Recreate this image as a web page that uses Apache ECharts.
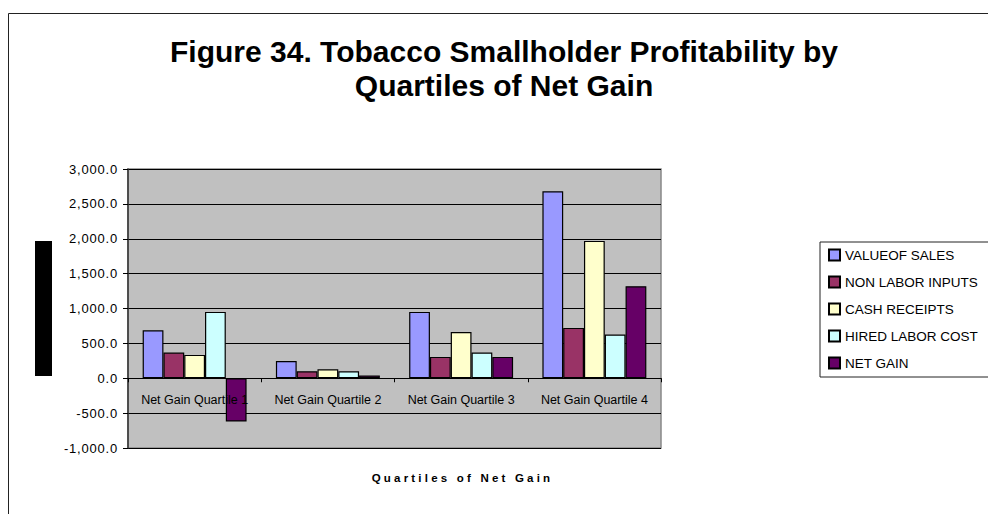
<!DOCTYPE html>
<html>
<head>
<meta charset="utf-8">
<script src="https://cdn.jsdelivr.net/npm/echarts@6/dist/echarts.min.js"></script>
<style>
html,body{margin:0;padding:0;background:#fff;}
#chart{width:988px;height:514px;}
</style>
</head>
<body>
<div id="chart"></div>
<script>
const categories = ['Net Gain Quartile 1', 'Net Gain Quartile 2', 'Net Gain Quartile 3', 'Net Gain Quartile 4'];
const seriesNames = ['VALUEOF SALES', 'NON LABOR INPUTS', 'CASH RECEIPTS', 'HIRED LABOR COST', 'NET GAIN'];
const valueOfSales = [688, 248, 951, 2681];
const nonLaborInputs = [368, 100, 306, 722];
const cashReceipts = [335, 129, 664, 1969];
const hiredLaborCost = [951, 100, 368, 626];
const netGain = [-621, 38, 306, 1319];
const seriesColors = ['#9999FF', '#993366', '#FFFFCC', '#CCFFFF', '#660066'];
const yMin = -1000, yMax = 3000, yStep = 500;

const seriesData = [valueOfSales, nonLaborInputs, cashReceipts, hiredLaborCost, netGain];
const FONT = "'Liberation Sans', Arial, sans-serif";
const GRID_TOP = 169, GRID_H = 279;
// x axis sits on the value 0: distance from the grid bottom up to 0
const zeroOffset = -GRID_H * (0 - yMin) / (yMax - yMin);

function fmt(v) {
  const s = Math.abs(v).toFixed(1);
  const parts = s.split('.');
  parts[0] = parts[0].replace(/\B(?=(\d{3})+(?!\d))/g, ',');
  return (v < 0 ? '-' : '') + parts.join('.');
}

const chart = echarts.init(document.getElementById('chart'), null, {renderer: 'svg'});
chart.setOption({
  animation: false,
  backgroundColor: '#fff',
  title: {
    text: 'Figure 34. Tobacco Smallholder Profitability by\nQuartiles of Net Gain',
    left: 504, top: 34, padding: 0, textAlign: 'center',
    textStyle: {fontFamily: FONT, fontWeight: 'bold', fontSize: 30, lineHeight: 34, color: '#000'}
  },
  graphic: [
    {type: 'rect', shape: {x: 8.5, y: 13.5, width: 1100, height: 700}, style: {fill: 'none', stroke: '#222', lineWidth: 1}, silent: true, z: 0},
    {type: 'rect', shape: {x: 35, y: 241, width: 17, height: 135}, style: {fill: '#000'}, silent: true, z: 1}
  ],
  legend: {
    orient: 'vertical', left: 820, top: 242,
    padding: [6, 60, 7, 8], itemGap: 13, itemWidth: 11, itemHeight: 11,
    backgroundColor: '#fff', borderColor: '#222', borderWidth: 1,
    icon: 'rect',
    textStyle: {fontFamily: FONT, fontSize: 13.5, lineHeight: 14, color: '#000'},
    data: seriesNames
  },
  grid: {
    left: 128, top: GRID_TOP, width: 533, height: GRID_H,
    outerBoundsMode: 'none', containLabel: false,
    show: true, backgroundColor: '#C0C0C0', borderColor: '#888', borderWidth: 1.5
  },
  xAxis: {
    type: 'category', data: categories, z: 5,
    offset: zeroOffset,
    axisLine: {onZero: false, lineStyle: {color: '#000', width: 1}},
    axisTick: {show: true, length: 4, alignWithLabel: false, lineStyle: {color: '#000'}},
    axisLabel: {fontFamily: FONT, fontSize: 12.5, color: '#000', margin: 15, interval: 0, hideOverlap: false},
    splitLine: {show: false},
    name: 'Quartiles of Net Gain', nameLocation: 'middle', nameGap: 94,
    nameTextStyle: {fontFamily: FONT, fontWeight: 'bold', fontSize: 11.5, color: '#000', padding: [0, 0, 0, 136]}
  },
  yAxis: {
    type: 'value', min: yMin, max: yMax, interval: yStep,
    axisLine: {show: true, lineStyle: {color: '#333', width: 1.5}},
    axisTick: {show: true, length: 5, lineStyle: {color: '#000'}},
    axisLabel: {fontFamily: FONT, fontSize: 13, color: '#000', margin: 10, formatter: fmt},
    splitLine: {show: true, lineStyle: {color: '#000', width: 1}}
  },
  series: seriesNames.map((n, i) => ({
    name: n, type: 'bar', data: seriesData[i],
    barGap: '0%', barCategoryGap: '22%',
    itemStyle: {color: seriesColors[i], borderColor: '#000', borderWidth: 1.2}
  }))
});

// apply letter spacing to emulate the original's spaced-out axis text
document.querySelectorAll('#chart text').forEach(t => {
  const s = t.textContent;
  const fs = parseFloat(getComputedStyle(t).fontSize);
  if (s === 'Quartiles of Net Gain' && fs < 20) t.style.letterSpacing = '3.2px';
  else if (/^-?[\d,]+\.0$/.test(s)) t.style.letterSpacing = '0.8px';
});
</script>
</body>
</html>
